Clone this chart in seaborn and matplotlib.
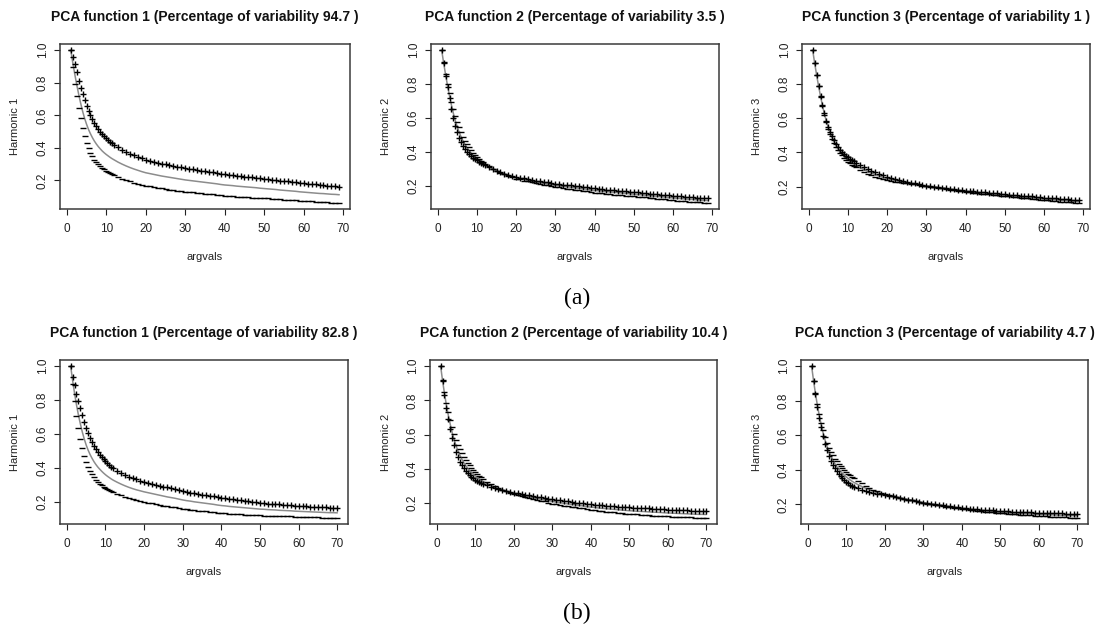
import numpy as np
import pandas as pd
import matplotlib
matplotlib.use("Agg")
import matplotlib.pyplot as plt
import seaborn as sns

# ---------------- data ----------------
argvals_a = [1, 1.5, 2, 2.5, 3, 3.5, 4, 4.5, 5, 5.5, 6, 6.5, 7, 7.5, 8, 8.5, 9, 9.5, 10, 10.5, 11, 11.5, 12,
             13, 14, 15, 16, 17, 18, 19, 20, 21, 22, 23, 24, 25, 26, 27, 28, 29, 30,
             31, 32, 33, 34, 35, 36, 37, 38, 39, 40, 41, 42, 43, 44, 45, 46, 47, 48, 49, 50,
             51, 52, 53, 54, 55, 56, 57, 58, 59, 60, 61, 62, 63, 64, 65, 66, 67, 68, 69]
argvals_b = argvals_a + [70]

# mean curve, set (a)
mean_a = [1.000, 0.925, 0.855, 0.790, 0.730, 0.675, 0.625, 0.582, 0.545, 0.513, 0.486, 0.462, 0.441, 0.423,
          0.407, 0.393, 0.380, 0.369, 0.359, 0.350, 0.341, 0.333, 0.326,
          0.312, 0.300, 0.289, 0.279, 0.270, 0.262, 0.254, 0.247,
          0.242, 0.237, 0.232, 0.227, 0.223, 0.219, 0.215, 0.211, 0.207, 0.203,
          0.200, 0.197, 0.194, 0.191, 0.188, 0.185, 0.182, 0.179, 0.175, 0.172,
          0.170, 0.168, 0.165, 0.163, 0.161, 0.159, 0.157, 0.155, 0.152, 0.150,
          0.148, 0.146, 0.144, 0.141, 0.139, 0.137, 0.135, 0.133, 0.130, 0.128,
          0.126, 0.124, 0.122, 0.120, 0.119, 0.117, 0.115, 0.114, 0.112]

# harmonic perturbations (mean +/- these give the "+" and "-" curves), set (a)
harm_a1 = [0.000, 0.030, 0.060, 0.073, 0.083, 0.094, 0.103, 0.109, 0.113, 0.115, 0.115, 0.114, 0.113, 0.111,
           0.109, 0.107, 0.105, 0.102, 0.100, 0.098, 0.096, 0.095, 0.093,
           0.091, 0.089, 0.087, 0.085, 0.084, 0.082, 0.081, 0.079,
           0.078, 0.078, 0.077, 0.076, 0.075, 0.075, 0.074, 0.073, 0.073, 0.072,
           0.071, 0.071, 0.070, 0.069, 0.069, 0.068, 0.067, 0.067, 0.066, 0.065,
           0.065, 0.064, 0.064, 0.063, 0.063, 0.062, 0.062, 0.061, 0.061, 0.060,
           0.059, 0.059, 0.058, 0.058, 0.057, 0.057, 0.056, 0.055, 0.055, 0.054,
           0.054, 0.053, 0.053, 0.052, 0.052, 0.051, 0.051, 0.050, 0.050]
harm_a2 = [0.000, -0.002, -0.005, -0.010, -0.015, -0.020, -0.025, -0.028, -0.030, -0.031, -0.030, -0.028, -0.025,
           -0.023, -0.020, -0.018, -0.015, -0.013, -0.010, -0.008, -0.007, -0.006, -0.005,
           -0.003, -0.001, 0.000, 0.001, 0.002, 0.003, 0.004, 0.005,
           0.005, 0.006, 0.006, 0.007, 0.007, 0.008, 0.008, 0.009, 0.009, 0.010,
           0.010, 0.010, 0.011, 0.011, 0.011, 0.011, 0.012, 0.012, 0.012, 0.012,
           0.012, 0.012, 0.012, 0.013, 0.013, 0.013, 0.013, 0.013, 0.013, 0.013,
           0.013, 0.013, 0.013, 0.013, 0.013, 0.013, 0.013, 0.013, 0.013, 0.013,
           0.013, 0.013, 0.013, 0.013, 0.013, 0.013, 0.013, 0.013, 0.013]
harm_a3 = [0.000, 0.000, 0.001, 0.002, 0.003, 0.004, 0.005, 0.005, 0.006, 0.007, 0.008, 0.008, 0.009, 0.010,
           0.010, 0.011, 0.012, 0.012, 0.013, 0.013, 0.014, 0.014, 0.014,
           0.015, 0.015, 0.015, 0.014, 0.013, 0.012, 0.011, 0.010,
           0.009, 0.008, 0.007, 0.006, 0.005, 0.004, 0.003, 0.003, 0.002, 0.002,
           0.002, 0.002, 0.002, 0.002, 0.003, 0.003, 0.003, 0.003, 0.003, 0.003,
           0.003, 0.004, 0.004, 0.004, 0.004, 0.004, 0.005, 0.005, 0.005, 0.005,
           0.005, 0.006, 0.006, 0.006, 0.006, 0.006, 0.007, 0.007, 0.007, 0.007,
           0.007, 0.007, 0.008, 0.008, 0.008, 0.008, 0.008, 0.008, 0.008]

# mean curve, set (b)
mean_b = [1.000, 0.915, 0.840, 0.772, 0.712, 0.660, 0.612, 0.571, 0.535, 0.505, 0.479, 0.457, 0.437, 0.420,
          0.405, 0.392, 0.380, 0.369, 0.359, 0.350, 0.342, 0.334, 0.327,
          0.315, 0.304, 0.294, 0.285, 0.277, 0.270, 0.264, 0.258,
          0.253, 0.248, 0.243, 0.238, 0.233, 0.228, 0.224, 0.220, 0.215, 0.210,
          0.206, 0.203, 0.199, 0.196, 0.193, 0.190, 0.187, 0.184, 0.180, 0.177,
          0.175, 0.172, 0.170, 0.168, 0.166, 0.164, 0.162, 0.160, 0.158, 0.156,
          0.155, 0.153, 0.152, 0.151, 0.149, 0.148, 0.147, 0.146, 0.144, 0.143,
          0.142, 0.141, 0.140, 0.139, 0.138, 0.137, 0.136, 0.135, 0.135, 0.134]

harm_b1 = [0.000, 0.020, 0.046, 0.065, 0.080, 0.090, 0.097, 0.100, 0.101, 0.100, 0.098, 0.096, 0.093, 0.090,
           0.087, 0.085, 0.082, 0.080, 0.078, 0.076, 0.074, 0.072, 0.070,
           0.067, 0.065, 0.064, 0.063, 0.062, 0.061, 0.060, 0.059,
           0.058, 0.058, 0.057, 0.057, 0.056, 0.056, 0.055, 0.054, 0.054, 0.053,
           0.052, 0.051, 0.050, 0.050, 0.049, 0.048, 0.047, 0.047, 0.046, 0.045,
           0.044, 0.043, 0.043, 0.042, 0.041, 0.040, 0.040, 0.039, 0.038, 0.037,
           0.037, 0.036, 0.036, 0.035, 0.035, 0.034, 0.034, 0.033, 0.033, 0.032,
           0.032, 0.032, 0.031, 0.031, 0.031, 0.031, 0.030, 0.030, 0.030, 0.030]
harm_b2 = [0.000, -0.005, -0.010, -0.015, -0.020, -0.025, -0.030, -0.033, -0.035, -0.036, -0.036, -0.035, -0.034,
           -0.032, -0.030, -0.028, -0.026, -0.024, -0.022, -0.020, -0.018, -0.016, -0.014,
           -0.011, -0.008, -0.006, -0.004, -0.002, 0.000, 0.002, 0.003,
           0.004, 0.005, 0.006, 0.007, 0.008, 0.009, 0.010, 0.010, 0.011, 0.012,
           0.012, 0.013, 0.013, 0.014, 0.014, 0.014, 0.015, 0.015, 0.015, 0.016,
           0.016, 0.016, 0.017, 0.017, 0.017, 0.018, 0.018, 0.018, 0.019, 0.019,
           0.019, 0.019, 0.019, 0.020, 0.020, 0.020, 0.020, 0.020, 0.020, 0.020,
           0.020, 0.020, 0.020, 0.020, 0.020, 0.020, 0.020, 0.020, 0.020, 0.020]
harm_b3 = [0.000, 0.000, -0.003, -0.006, -0.010, -0.013, -0.016, -0.019, -0.021, -0.023, -0.025, -0.027, -0.028,
           -0.029, -0.030, -0.030, -0.030, -0.030, -0.029, -0.028, -0.027, -0.026, -0.024,
           -0.021, -0.018, -0.015, -0.012, -0.009, -0.007, -0.005, -0.003,
           -0.002, -0.002, -0.001, -0.001, 0.000, 0.000, 0.000, 0.001, 0.001, 0.001,
           0.001, 0.001, 0.002, 0.002, 0.002, 0.002, 0.002, 0.003, 0.003, 0.003,
           0.003, 0.003, 0.004, 0.004, 0.004, 0.005, 0.005, 0.005, 0.006, 0.006,
           0.006, 0.007, 0.007, 0.007, 0.008, 0.008, 0.008, 0.009, 0.009, 0.010,
           0.010, 0.010, 0.010, 0.011, 0.011, 0.011, 0.011, 0.012, 0.012, 0.012]

variability_a = ["94.7", "3.5", "1"]
variability_b = ["82.8", "10.4", "4.7"]
x_ticks = [0, 10, 20, 30, 40, 50, 60, 70]
y_ticks = [0.2, 0.4, 0.6, 0.8, 1.0]
y_ticklabels = ["0.2", "0.4", "0.6", "0.8", "1.0"]
captions = ["(a)", "(b)"]

# ---------------- figure ----------------
sns.set_theme(style="ticks")
plt.rcParams["font.family"] = ["Liberation Sans", "DejaVu Sans"]

W, H = 1097, 633
fig = plt.figure(figsize=(W / 100, H / 100), dpi=100)
fig.patch.set_facecolor("white")


def rect(left, top, w, h):
    return [left / W, 1 - (top + h) / H, w / W, h / H]


panels = [
    (rect(60, 44, 290, 165), argvals_a, mean_a, harm_a1, 1, variability_a[0], 17),
    (rect(431, 44, 288, 165), argvals_a, mean_a, harm_a2, 2, variability_a[1], 17),
    (rect(802, 44, 288, 165), argvals_a, mean_a, harm_a3, 3, variability_a[2], 17),
    (rect(60, 360, 288, 164), argvals_b, mean_b, harm_b1, 1, variability_b[0], 333),
    (rect(430, 360, 287, 164), argvals_b, mean_b, harm_b2, 2, variability_b[1], 333),
    (rect(801, 360, 287, 164), argvals_b, mean_b, harm_b3, 3, variability_b[2], 333),
]

ink = "#222222"
for r, xv, mv, hv, k, var, title_y in panels:
    ax = fig.add_axes(r)
    m = np.array(mv)
    h = np.array(hv)
    df = pd.DataFrame({"argvals": xv, "mean": m, "plus": m + h, "minus": m - h})
    sns.lineplot(data=df, x="argvals", y="mean", color="#8c8c8c", linewidth=1.1, ax=ax,
                 estimator=None, sort=False)
    sns.scatterplot(data=df, x="argvals", y="plus", marker="+", color="black", s=25,
                    linewidth=1.0, ax=ax, zorder=3)
    sns.scatterplot(data=df, x="argvals", y="minus", marker="_", color="black", s=25,
                    linewidth=1.0, ax=ax, zorder=3)
    ax.margins(x=0.04, y=0.04)
    ax.set_xticks(x_ticks)
    ax.set_yticks(y_ticks)
    ax.set_yticklabels(y_ticklabels, rotation=90, va="center")
    ax.tick_params(axis="both", direction="out", length=4, width=0.8, colors=ink,
                   labelsize=8.5, labelcolor=ink)
    ax.tick_params(axis="x", pad=6)
    ax.tick_params(axis="y", pad=4)
    for sp in ax.spines.values():
        sp.set_color("#3a3a3a")
        sp.set_linewidth(1.1)
    ax.grid(False)
    ax.set_xlabel("argvals", fontsize=8, color=ink)
    ax.set_ylabel(f"Harmonic {k}", fontsize=8, color=ink)
    ax.xaxis.set_label_coords(0.5, -0.29)
    ax.xaxis.label.set_va("center")
    ax.yaxis.set_label_coords(-0.155, 0.5)
    ax.yaxis.label.set_va("center")
    pos = ax.get_position()
    fig.text(pos.x0 + pos.width / 2, 1 - title_y / H,
             f"PCA function {k} (Percentage of variability {var} )",
             ha="center", va="center", fontsize=10, fontweight="bold", color="#111111")

fig.text(577 / W, 1 - 298 / H, captions[0], ha="center", va="center", fontsize=17,
         family=["Liberation Serif", "DejaVu Serif"], color="black")
fig.text(577 / W, 1 - 613 / H, captions[1], ha="center", va="center", fontsize=17,
         family=["Liberation Serif", "DejaVu Serif"], color="black")

fig.savefig("out.png", dpi=100, facecolor="white")
